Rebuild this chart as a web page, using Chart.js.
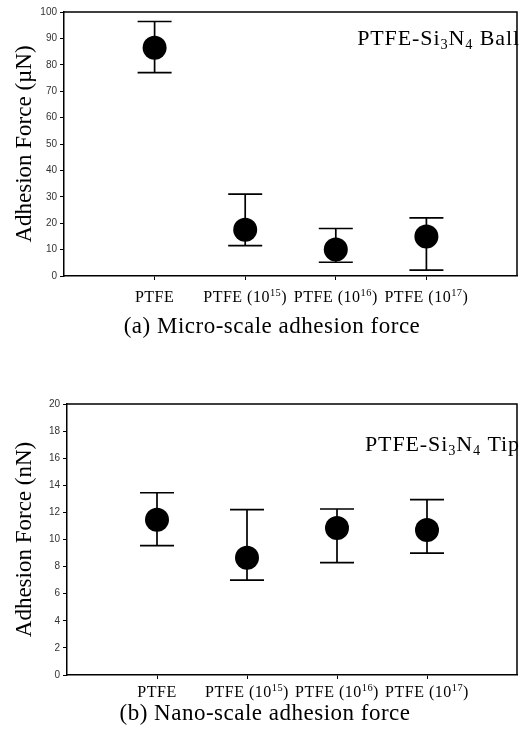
<!DOCTYPE html>
<html>
<head>
<meta charset="utf-8">
<script src="https://cdn.jsdelivr.net/npm/chart.js@4.4.0/dist/chart.umd.min.js"></script>
<style>
    body { margin: 0; background: #fff; width: 529px; height: 745px; overflow: hidden; position: relative; }
    canvas { position: absolute; left: 0; }
</style>
</head>
<body>
<canvas id="graficoMicro" width="529" height="345" style="top:0px"></canvas>
<canvas id="graficoNano" width="529" height="385" style="top:360px"></canvas>
<script>
// Categorias (^{..} = sobrescrito, _{..} = subscrito)
const categorias = ['PTFE', 'PTFE (10^{15})', 'PTFE (10^{16})', 'PTFE (10^{17})'];
const posX = [1, 2, 3, 4];

// (a) micro-escala, uN
const microMedia = [86.5, 17.5, 10.0, 15.0];
const microMax = [96.4, 31.0, 18.0, 22.0];
const microMin = [77.0, 11.5, 5.2, 2.2];
const microTicks = [0, 10, 20, 30, 40, 50, 60, 70, 80, 90, 100];

// (b) nano-escala, nN
const nanoMedia = [11.45, 8.65, 10.85, 10.7];
const nanoMax = [13.45, 12.2, 12.25, 12.95];
const nanoMin = [9.55, 7.0, 8.3, 9.0];
const nanoTicks = [0, 2, 4, 6, 8, 10, 12, 14, 16, 18, 20];

const serif = "'Liberation Serif', 'Times New Roman', serif";
const sans = "'Liberation Sans', Arial, sans-serif";

// separa o texto em partes normais / sobrescritas / subscritas
function parseRich(str) {
    const parts = [];
    const re = /([\^_])\{([^}]*)\}/g;
    let last = 0, m;
    while ((m = re.exec(str)) !== null) {
        if (m.index > last) parts.push({ t: str.slice(last, m.index), k: '' });
        parts.push({ t: m[2], k: m[1] });
        last = re.lastIndex;
    }
    if (last < str.length) parts.push({ t: str.slice(last), k: '' });
    return parts;
}

function drawRich(ctx, str, x, y, size, align, spacing) {
    const parts = parseRich(str);
    ctx.save();
    ctx.textBaseline = 'alphabetic';
    ctx.textAlign = 'left';
    ctx.fillStyle = '#000';
    ctx.letterSpacing = (spacing || 0) + 'px';
    let total = 0;
    parts.forEach(p => {
        const s = p.k ? size * 0.65 : size;
        ctx.font = `${s}px ${serif}`;
        p.w = ctx.measureText(p.t).width;
        total += p.w;
    });
    let cx = align === 'center' ? x - total / 2 : (align === 'right' ? x - total : x);
    parts.forEach(p => {
        const s = p.k ? size * 0.65 : size;
        ctx.font = `${s}px ${serif}`;
        let dy = 0;
        if (p.k === '^') dy = -size * 0.38;
        if (p.k === '_') dy = size * 0.2;
        ctx.fillText(p.t, cx, y + dy);
        cx += p.w;
    });
    ctx.restore();
}

const extrasPlugin = {
    id: 'extras',
    beforeDatasetsDraw(chart, args, opts) {
        const ctx = chart.ctx;
        const x = chart.scales.x, y = chart.scales.y;
        ctx.save();
        ctx.strokeStyle = '#000';
        ctx.lineWidth = 1.7;
        posX.forEach((p, i) => {
            const px = x.getPixelForValue(p);
            const yHi = y.getPixelForValue(opts.max[i]);
            const yLo = y.getPixelForValue(opts.min[i]);
            ctx.beginPath();
            ctx.moveTo(px, yHi); ctx.lineTo(px, yLo);
            ctx.moveTo(px - 17, yHi); ctx.lineTo(px + 17, yHi);
            ctx.moveTo(px - 17, yLo); ctx.lineTo(px + 17, yLo);
            ctx.stroke();
        });
        ctx.restore();
    },
    afterDraw(chart, args, opts) {
        const ctx = chart.ctx;
        const a = chart.chartArea;
        const x = chart.scales.x;
        // moldura superior e direita
        ctx.save();
        ctx.strokeStyle = '#000';
        ctx.lineWidth = 1.5;
        ctx.beginPath();
        ctx.moveTo(a.left, a.top); ctx.lineTo(a.right, a.top); ctx.lineTo(a.right, a.bottom);
        ctx.stroke();
        ctx.restore();
        // rotulos das categorias
        categorias.forEach((c, i) => {
            drawRich(ctx, c, x.getPixelForValue(posX[i]), a.bottom + opts.labelOffset, 16, 'center', 0.5);
        });
        drawRich(ctx, opts.nota, opts.notaX, opts.notaY, 22, 'right', 0.9);
        drawRich(ctx, opts.legenda, opts.legendaX, opts.legendaY, 23, 'center', 0.5);
    }
};

function criarGrafico(id, media, ticks, yTitulo, larguraY, alturaX, padTop, extras) {
    const ctx = document.getElementById(id).getContext('2d');
    return new Chart(ctx, {
        type: 'scatter',
        data: {
            datasets: [{
                data: posX.map((p, i) => ({ x: p, y: media[i] })),
                backgroundColor: '#000',
                borderWidth: 0,
                pointRadius: 12,
                showLine: false
            }]
        },
        options: {
            responsive: false,
            animation: false,
            layout: { padding: { top: padTop, right: 2, left: 0, bottom: 0 } },
            plugins: {
                legend: { display: false },
                tooltip: { enabled: false },
                extras: extras
            },
            scales: {
                x: {
                    type: 'linear',
                    min: 0,
                    max: 5,
                    afterBuildTicks: s => { s.ticks = posX.map(v => ({ value: v })); },
                    afterFit: s => { s.height = alturaX; },
                    ticks: { display: false },
                    grid: { drawOnChartArea: false, tickLength: 4, color: '#000' },
                    border: { color: '#000', width: 1.5 }
                },
                y: {
                    min: ticks[0],
                    max: ticks[ticks.length - 1],
                    afterBuildTicks: s => { s.ticks = ticks.map(v => ({ value: v })); },
                    afterFit: s => { s.width = larguraY; },
                    ticks: {
                        padding: 3,
                        color: '#333',
                        font: { family: sans, size: 10 }
                    },
                    grid: { drawOnChartArea: false, tickLength: 4, color: '#000' },
                    border: { color: '#000', width: 1.5 },
                    title: {
                        display: true,
                        text: yTitulo,
                        color: '#000',
                        padding: { top: 13, bottom: 0 },
                        font: { family: serif, size: 23, lineHeight: 1 }
                    }
                }
            }
        },
        plugins: [extrasPlugin]
    });
}

criarGrafico('graficoMicro', microMedia, microTicks, 'Adhesion Force (\u00b5N)', 64, 69, 9, {
    max: microMax, min: microMin, labelOffset: 26,
    nota: 'PTFE-Si_{3}N_{4} Ball', notaX: 520, notaY: 45,
    legenda: '(a) Micro-scale adhesion force', legendaX: 272, legendaY: 333
});

criarGrafico('graficoNano', nanoMedia, nanoTicks, 'Adhesion Force (nN)', 67, 70, 44, {
    max: nanoMax, min: nanoMin, labelOffset: 22,
    nota: 'PTFE-Si_{3}N_{4} Tip', notaX: 520, notaY: 91,
    legenda: '(b) Nano-scale adhesion force', legendaX: 265, legendaY: 360
});
</script>
</body>
</html>
